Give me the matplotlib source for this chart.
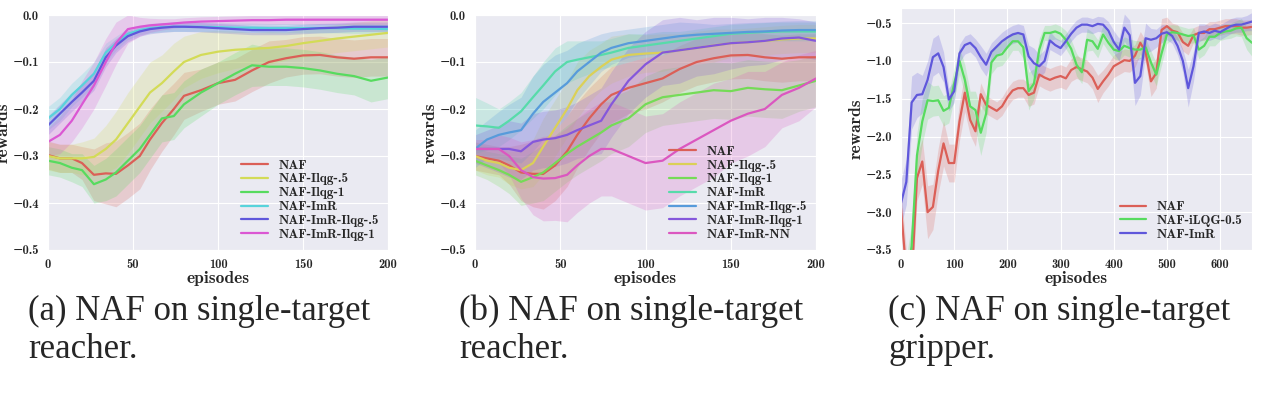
import numpy as np
import matplotlib
matplotlib.use('Agg')
import matplotlib.pyplot as plt
import seaborn as sns

sns.set_style('darkgrid')
plt.rcParams['font.family'] = ['cmb10', 'DejaVu Serif']
plt.rcParams['axes.unicode_minus'] = True

# episodes for panels (a) and (b)
ep_ab = [0, 7, 14, 20, 27, 34, 40, 47, 54, 60, 67, 74, 80, 90, 100, 110, 120,
         130, 140, 150, 160, 170, 180, 190, 200]

# (a) single-target reacher
labels_a = ['NAF', 'NAF-Ilqg-.5', 'NAF-Ilqg-1', 'NAF-ImR', 'NAF-ImR-Ilqg-.5', 'NAF-ImR-Ilqg-1']
naf_a = [-0.298, -0.305, -0.305, -0.315, -0.340, -0.337, -0.338, -0.32, -0.30, -0.265, -0.23,
         -0.20, -0.172, -0.16, -0.145, -0.138, -0.118, -0.100, -0.092, -0.086, -0.085, -0.090,
         -0.093, -0.090, -0.090]
ilqg5_a = [-0.30, -0.305, -0.305, -0.305, -0.302, -0.285, -0.265, -0.23, -0.195, -0.165, -0.145,
           -0.12, -0.10, -0.085, -0.078, -0.074, -0.072, -0.070, -0.066, -0.060, -0.055, -0.050,
           -0.046, -0.042, -0.038]
ilqg1_a = [-0.31, -0.315, -0.325, -0.33, -0.36, -0.35, -0.335, -0.31, -0.285, -0.255, -0.22,
           -0.215, -0.19, -0.165, -0.145, -0.125, -0.107, -0.11, -0.11, -0.113, -0.118, -0.125,
           -0.13, -0.14, -0.133]
imr_a = [-0.22, -0.20, -0.17, -0.15, -0.125, -0.08, -0.06, -0.04, -0.032, -0.028, -0.026, -0.025,
         -0.025, -0.025, -0.026, -0.027, -0.027, -0.028, -0.028, -0.028, -0.028, -0.028, -0.029,
         -0.029, -0.03]
imr5_a = [-0.235, -0.21, -0.185, -0.165, -0.14, -0.09, -0.065, -0.045, -0.035, -0.03, -0.027,
          -0.025, -0.025, -0.026, -0.028, -0.03, -0.032, -0.032, -0.032, -0.03, -0.028, -0.027,
          -0.025, -0.025, -0.025]
imr1_a = [-0.27, -0.255, -0.225, -0.19, -0.15, -0.10, -0.06, -0.03, -0.025, -0.022, -0.020,
          -0.018, -0.016, -0.014, -0.013, -0.012, -0.011, -0.011, -0.010, -0.010, -0.010, -0.010,
          -0.010, -0.010, -0.010]
naf_a_sd = [.03, .03, .03, .035, .055, .065, .07, .07, .07, .065, .06, .055, .05, .045, .045, .045,
            .045, .045, .04, .04, .04, .04, .04, .04, .04]
ilqg5_a_sd = [.03, .03, .03, .035, .04, .05, .06, .065, .065, .065, .06, .06, .055, .05, .045, .04,
              .035, .035, .03, .03, .03, .03, .03, .03, .03]
ilqg1_a_sd = [.03, .03, .03, .035, .04, .045, .05, .05, .05, .05, .05, .05, .05, .05, .045, .045,
              .045, .04, .04, .04, .04, .04, .04, .045, .045]
imr_a_sd = [.025, .025, .025, .025, .025, .02, .015, .012, .01, .01, .01, .01, .01, .01, .01, .01,
            .01, .01, .01, .01, .01, .01, .01, .01, .01]
imr5_a_sd = [.02, .02, .02, .02, .02, .02, .015, .012, .01, .01, .01, .01, .01, .01, .01, .01,
             .01, .01, .01, .01, .01, .01, .01, .01, .01]
imr1_a_sd = [.03, .04, .045, .05, .05, .05, .045, .03, .02, .015, .012, .01, .01, .01, .01, .01,
             .01, .01, .01, .01, .01, .01, .01, .01, .01]

# (b) single-target reacher
labels_b = ['NAF', 'NAF-Ilqg-.5', 'NAF-Ilqg-1', 'NAF-ImR', 'NAF-ImR-Ilqg-.5', 'NAF-ImR-Ilqg-1',
            'NAF-ImR-NN']
naf_b = [-0.30, -0.305, -0.31, -0.32, -0.335, -0.338, -0.338, -0.32, -0.29, -0.255, -0.22, -0.19,
         -0.17, -0.155, -0.145, -0.135, -0.115, -0.10, -0.092, -0.086, -0.085, -0.090, -0.093,
         -0.090, -0.090]
ilqg5_b = [-0.30, -0.31, -0.315, -0.325, -0.33, -0.315, -0.28, -0.24, -0.20, -0.16, -0.13, -0.11,
           -0.095, -0.085, -0.082, -0.08, -0.075, -0.07, -0.065, -0.06, -0.058, -0.055, -0.052,
           -0.05, -0.05]
ilqg1_b = [-0.31, -0.32, -0.33, -0.34, -0.355, -0.345, -0.335, -0.315, -0.295, -0.28, -0.265,
           -0.25, -0.235, -0.22, -0.19, -0.175, -0.17, -0.165, -0.16, -0.162, -0.155, -0.158,
           -0.16, -0.15, -0.14]
imr_b = [-0.235, -0.237, -0.24, -0.225, -0.205, -0.175, -0.15, -0.12, -0.10, -0.095, -0.09,
         -0.085, -0.08, -0.07, -0.065, -0.06, -0.055, -0.05, -0.045, -0.04, -0.038, -0.036,
         -0.035, -0.035, -0.035]
imr5_b = [-0.285, -0.265, -0.255, -0.25, -0.245, -0.21, -0.185, -0.165, -0.145, -0.12, -0.10,
          -0.08, -0.07, -0.06, -0.055, -0.05, -0.045, -0.042, -0.04, -0.038, -0.036, -0.035,
          -0.033, -0.032, -0.032]
imr1_b = [-0.285, -0.285, -0.285, -0.285, -0.29, -0.27, -0.265, -0.262, -0.255, -0.245, -0.235,
          -0.225, -0.19, -0.14, -0.105, -0.08, -0.075, -0.07, -0.065, -0.06, -0.058, -0.055,
          -0.05, -0.048, -0.055]
nn_b = [-0.285, -0.285, -0.285, -0.30, -0.33, -0.345, -0.348, -0.347, -0.34, -0.32, -0.30,
        -0.285, -0.285, -0.30, -0.315, -0.31, -0.285, -0.265, -0.245, -0.225, -0.21, -0.20,
        -0.17, -0.155, -0.135]
naf_b_sd = [.03, .03, .03, .04, .06, .07, .075, .075, .075, .07, .065, .06, .06, .055, .055, .05,
            .05, .05, .05, .05, .05, .05, .05, .05, .05]
ilqg5_b_sd = [.03, .03, .03, .035, .04, .05, .06, .06, .06, .06, .055, .05, .05, .045, .04, .04,
              .035, .035, .035, .03, .03, .03, .03, .03, .03]
ilqg1_b_sd = [.03, .03, .035, .04, .05, .055, .06, .06, .06, .06, .06, .06, .06, .06, .06, .06,
              .06, .06, .06, .06, .06, .06, .06, .055, .055]
imr_b_sd = [.06, .05, .04, .04, .04, .045, .05, .05, .045, .04, .035, .03, .03, .03, .025, .025,
            .02, .02, .02, .02, .02, .02, .02, .02, .02]
imr5_b_sd = [.04, .04, .05, .06, .07, .08, .08, .08, .07, .06, .05, .04, .035, .03, .03, .03,
             .03, .025, .02, .02, .02, .02, .02, .02, .02]
imr1_b_sd = [.03, .04, .05, .06, .06, .06, .06, .06, .06, .06, .065, .07, .07, .07, .07, .07,
             .07, .06, .06, .055, .05, .05, .045, .04, .04]
nn_b_sd = [.02, .02, .03, .04, .06, .08, .09, .09, .1, .1, .1, .1, .1, .1, .1, .1, .1, .1, .1,
           .09, .09, .08, .07, .07, .06]

# (c) single-target gripper
ep_c = np.arange(0, 661, 10)
labels_c = ['NAF', 'NAF-iLQG-0.5', 'NAF-ImR']
naf_c = [-2.95, -3.8, -3.9, -2.55, -2.33, -3.0, -2.93, -2.45, -2.09, -2.35, -2.35, -1.80, -1.42,
         -1.78, -1.93, -1.44, -1.58, -1.62, -1.66, -1.60, -1.48, -1.39, -1.36, -1.36, -1.45, -1.42,
         -1.18, -1.22, -1.25, -1.22, -1.20, -1.23, -1.12, -1.08, -1.11, -1.14, -1.22, -1.37, -1.27,
         -1.18, -1.07, -1.03, -0.99, -1.00, -0.93, -0.76, -0.88, -1.27, -1.16, -0.59, -0.54, -0.60,
         -0.62, -0.75, -0.80, -0.66, -0.63, -0.63, -0.58, -0.58, -0.56, -0.54, -0.54, -0.54, -0.56,
         -0.56, -0.55]
ilqg_c = [-4.3, -3.9, -3.45, -2.25, -1.80, -1.52, -1.53, -1.52, -1.66, -1.62, -1.30, -1.00, -1.25,
          -1.60, -1.65, -1.95, -1.70, -1.02, -0.93, -0.91, -0.82, -0.74, -0.74, -0.82, -1.40, -1.30,
          -0.85, -0.63, -0.63, -0.61, -0.64, -0.72, -0.84, -1.05, -1.15, -0.72, -0.74, -0.84, -0.65,
          -0.76, -0.85, -0.87, -0.80, -0.83, -0.85, -0.85, -0.82, -1.02, -1.18, -0.90, -0.65, -0.62,
          -0.63, -0.65, -0.67, -0.66, -0.85, -0.80, -0.68, -0.68, -0.63, -0.61, -0.60, -0.57, -0.56,
          -0.70, -0.76]
imr_c = [-2.88, -2.60, -1.55, -1.45, -1.44, -1.25, -0.95, -0.90, -1.08, -1.51, -1.40, -0.90, -0.79,
         -0.76, -0.83, -0.95, -1.05, -0.88, -0.81, -0.74, -0.69, -0.65, -0.63, -0.65, -0.94, -1.03,
         -1.07, -1.00, -0.73, -0.79, -0.83, -0.74, -0.64, -0.56, -0.52, -0.52, -0.54, -0.51, -0.52,
         -0.60, -0.75, -0.85, -0.56, -0.66, -1.29, -1.20, -0.70, -0.72, -0.70, -0.64, -0.62, -0.67,
         -0.80, -1.00, -1.36, -1.07, -0.63, -0.61, -0.63, -0.60, -0.62, -0.58, -0.54, -0.52, -0.52,
         -0.50, -0.48]
naf_c_sd = [.25, .3, .3, .3, .3, .35, .3, .3, .3, .25, .25, .25, .25, .2, .2, .15, .12, .12, .12,
            .12, .12, .12, .12, .12, .15, .15, .15, .15, .15, .15, .15, .15, .15, .15, .15, .15,
            .15, .18, .15, .15, .15, .15, .15, .15, .15, .15, .15, .2, .2, .15, .12, .1, .1, .12,
            .12, .1, .1, .1, .1, .1, .1, .1, .1, .1, .1, .1, .1]
ilqg_c_sd = [.3, .3, .3, .3, .3, .25, .2, .2, .2, .2, .2, .18, .2, .2, .25, .3, .25, .15, .15, .15,
             .15, .12, .12, .15, .25, .2, .15, .1, .1, .1, .1, .12, .12, .15, .15, .15, .12, .12,
             .12, .12, .12, .12, .12, .12, .12, .12, .12, .15, .15, .15, .12, .1, .1, .1, .1, .1,
             .12, .12, .12, .12, .1, .1, .1, .1, .12, .15, .18]
imr_c_sd = [.3, .3, .35, .3, .25, .25, .25, .25, .2, .15, .15, .12, .12, .12, .12, .15, .15, .12,
            .12, .12, .12, .12, .12, .12, .15, .2, .15, .15, .12, .1, .1, .1, .1, .1, .1, .1, .1,
            .1, .1, .12, .15, .15, .18, .2, .3, .25, .2, .15, .12, .12, .1, .1, .12, .15, .25, .2,
            .12, .1, .1, .1, .1, .1, .1, .1, .1, .1, .12]

captions = ['(a) NAF on single-target\nreacher.',
            '(b) NAF on single-target\nreacher.',
            '(c) NAF on single-target\ngripper.']


def draw(ax, x, means, sds, labels, colors):
    for m, s, lab, c in zip(means, sds, labels, colors):
        m = np.array(m)
        s = np.array(s)
        ax.fill_between(x, m - s, m + s, color=c, alpha=0.22, lw=0)
        ax.plot(x, m, color=c, lw=1.6, label=lab)
    ax.set_xlabel('episodes', fontsize=12.5, labelpad=0)
    ax.set_ylabel('rewards', fontsize=12.5, labelpad=1)
    ax.tick_params(labelsize=9, pad=3)
    ax.legend(loc='lower right', fontsize=9.5, frameon=False, labelspacing=0.12,
              handlelength=2.0, handletextpad=0.8, borderaxespad=0.3)


fig = plt.figure(figsize=(12.64, 3.94), dpi=100)
ax1 = fig.add_axes([48 / 1264, 1 - 250 / 394, 340 / 1264, 235 / 394])
ax2 = fig.add_axes([475 / 1264, 1 - 250 / 394, 341 / 1264, 235 / 394])
ax3 = fig.add_axes([901 / 1264, 1 - 250 / 394, 351 / 1264, 242 / 394])

draw(ax1, ep_ab, [naf_a, ilqg5_a, ilqg1_a, imr_a, imr5_a, imr1_a],
     [naf_a_sd, ilqg5_a_sd, ilqg1_a_sd, imr_a_sd, imr5_a_sd, imr1_a_sd],
     labels_a, sns.color_palette('hls', 6))
draw(ax2, ep_ab, [naf_b, ilqg5_b, ilqg1_b, imr_b, imr5_b, imr1_b, nn_b],
     [naf_b_sd, ilqg5_b_sd, ilqg1_b_sd, imr_b_sd, imr5_b_sd, imr1_b_sd, nn_b_sd],
     labels_b, sns.color_palette('hls', 7))
draw(ax3, ep_c, [naf_c, ilqg_c, imr_c], [naf_c_sd, ilqg_c_sd, imr_c_sd],
     labels_c, sns.color_palette('hls', 3))

for ax in (ax1, ax2):
    ax.set_xlim(0, 200)
    ax.set_ylim(-0.5, 0.0)
    ax.set_xticks([0, 50, 100, 150, 200])
    ax.set_yticks([-0.5, -0.4, -0.3, -0.2, -0.1, 0.0])
ax3.set_xlim(0, 660)
ax3.set_ylim(-3.5, -0.3)
ax3.set_xticks([0, 100, 200, 300, 400, 500, 600])
ax3.set_yticks([-3.5, -3.0, -2.5, -2.0, -1.5, -1.0, -0.5])

for xpos, cap in zip([28 / 1264, 459 / 1264, 888 / 1264], captions):
    fig.text(xpos, 1 - 358 / 394, cap, fontsize=25, family='Liberation Serif',
             ha='left', va='baseline', linespacing=1.2)

fig.savefig('out.png', dpi=100)
